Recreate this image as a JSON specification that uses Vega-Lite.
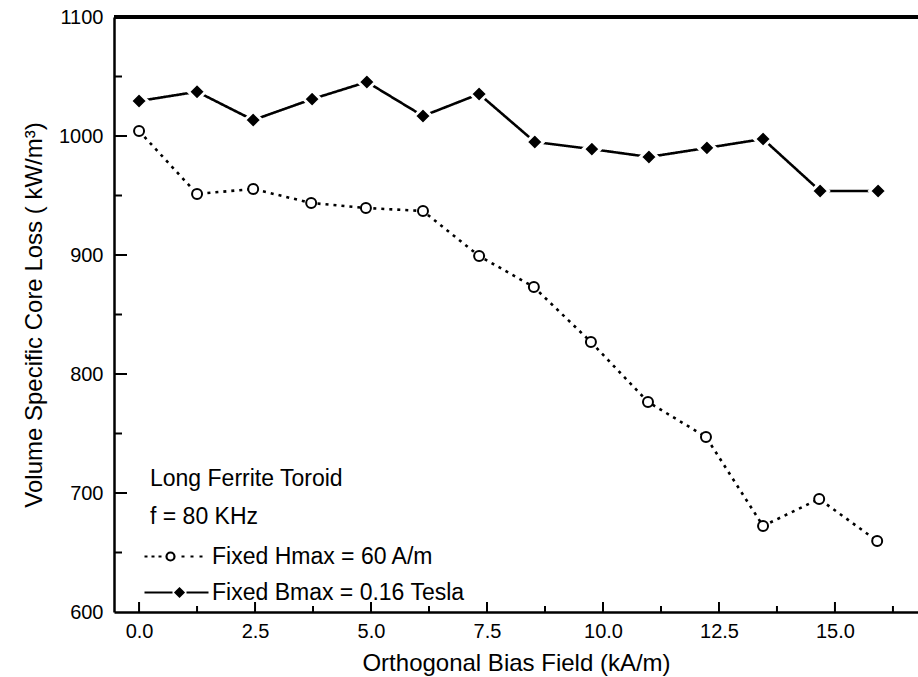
{
  "$schema": "https://vega.github.io/schema/vega-lite/v6.json",
  "autosize": {"type": "none"},
  "padding": {"left": 114, "top": 17, "right": 0, "bottom": 65},
  "width": 804,
  "height": 595,
  "background": "white",
  "config": {
    "font": "Liberation Sans",
    "view": {"stroke": null},
    "axis": {
      "grid": false,
      "domainColor": "black",
      "domainWidth": 2.5,
      "labelColor": "black",
      "titleColor": "black",
      "labelFont": "Liberation Sans",
      "titleFont": "Liberation Sans",
      "titleFontWeight": "normal"
    }
  },
  "datasets": {
    "loss": [
      {"field": 0.0, "loss": 1004.2, "series": "Fixed Hmax = 60 A/m"},
      {"field": 1.25, "loss": 951.3, "series": "Fixed Hmax = 60 A/m"},
      {"field": 2.46, "loss": 955.5, "series": "Fixed Hmax = 60 A/m"},
      {"field": 3.71, "loss": 943.7, "series": "Fixed Hmax = 60 A/m"},
      {"field": 4.89, "loss": 939.5, "series": "Fixed Hmax = 60 A/m"},
      {"field": 6.12, "loss": 937.0, "series": "Fixed Hmax = 60 A/m"},
      {"field": 7.33, "loss": 899.2, "series": "Fixed Hmax = 60 A/m"},
      {"field": 8.51, "loss": 873.1, "series": "Fixed Hmax = 60 A/m"},
      {"field": 9.74, "loss": 826.9, "series": "Fixed Hmax = 60 A/m"},
      {"field": 10.97, "loss": 776.5, "series": "Fixed Hmax = 60 A/m"},
      {"field": 12.22, "loss": 747.1, "series": "Fixed Hmax = 60 A/m"},
      {"field": 13.45, "loss": 672.3, "series": "Fixed Hmax = 60 A/m"},
      {"field": 14.66, "loss": 695.0, "series": "Fixed Hmax = 60 A/m"},
      {"field": 15.91, "loss": 659.7, "series": "Fixed Hmax = 60 A/m"},
      {"field": 0.0, "loss": 1029.4, "series": "Fixed Bmax = 0.16 Tesla"},
      {"field": 1.25, "loss": 1037.2, "series": "Fixed Bmax = 0.16 Tesla"},
      {"field": 2.46, "loss": 1013.4, "series": "Fixed Bmax = 0.16 Tesla"},
      {"field": 3.73, "loss": 1031.0, "series": "Fixed Bmax = 0.16 Tesla"},
      {"field": 4.91, "loss": 1045.4, "series": "Fixed Bmax = 0.16 Tesla"},
      {"field": 6.12, "loss": 1016.8, "series": "Fixed Bmax = 0.16 Tesla"},
      {"field": 7.33, "loss": 1035.3, "series": "Fixed Bmax = 0.16 Tesla"},
      {"field": 8.53, "loss": 995.0, "series": "Fixed Bmax = 0.16 Tesla"},
      {"field": 9.76, "loss": 989.0, "series": "Fixed Bmax = 0.16 Tesla"},
      {"field": 10.99, "loss": 982.4, "series": "Fixed Bmax = 0.16 Tesla"},
      {"field": 12.24, "loss": 990.0, "series": "Fixed Bmax = 0.16 Tesla"},
      {"field": 13.45, "loss": 997.5, "series": "Fixed Bmax = 0.16 Tesla"},
      {"field": 14.68, "loss": 953.8, "series": "Fixed Bmax = 0.16 Tesla"},
      {"field": 15.93, "loss": 953.8, "series": "Fixed Bmax = 0.16 Tesla"}
    ],
    "xMajor": [{"v": 0}, {"v": 2.5}, {"v": 5}, {"v": 7.5}, {"v": 10}, {"v": 12.5}, {"v": 15}],
    "xMinor": [{"v": 1.25}, {"v": 3.75}, {"v": 6.25}, {"v": 8.75}, {"v": 11.25}, {"v": 13.75}, {"v": 16.25}],
    "yMajor": [{"v": 700}, {"v": 800}, {"v": 900}, {"v": 1000}],
    "yMinor": [{"v": 650}, {"v": 750}, {"v": 850}, {"v": 950}, {"v": 1050}]
  },
  "layer": [
    {
      "data": {"name": "loss"},
      "mark": {"type": "line", "color": "black", "strokeWidth": 2.6},
      "encoding": {
        "x": {
          "field": "field", "type": "quantitative",
          "scale": {"domain": [-0.54, 16.79], "nice": false, "zero": false},
          "axis": {
            "title": "Orthogonal Bias Field (kA/m)",
            "titleFontSize": 24,
            "titlePadding": 10,
            "values": [0, 2.5, 5, 7.5, 10, 12.5, 15],
            "format": ".1f",
            "labelFontSize": 20,
            "ticks": false,
            "labelPadding": 9,
            "labelFlush": false
          }
        },
        "y": {
          "field": "loss", "type": "quantitative",
          "scale": {"domain": [600, 1100], "nice": false, "zero": false},
          "axis": {
            "title": "Volume Specific Core Loss ( kW/m³)",
            "titleFontSize": 24,
            "titlePadding": 12,
            "values": [600, 700, 800, 900, 1000, 1100],
            "format": "d",
            "labelFontSize": 20,
            "ticks": false,
            "labelPadding": 11,
            "labelFlush": false
          }
        },
        "strokeDash": {
          "condition": {"test": "datum.series === 'Fixed Hmax = 60 A/m'", "value": [3, 5]},
          "value": [1, 0]
        },
        "detail": {"field": "series"}
      }
    },
    {
      "data": {"name": "loss"},
      "mark": {"type": "point", "filled": true, "opacity": 1},
      "encoding": {
        "x": {"field": "field", "type": "quantitative"},
        "y": {"field": "loss", "type": "quantitative"},
        "shape": {
          "condition": {"test": "datum.series === 'Fixed Hmax = 60 A/m'", "value": "circle"},
          "value": "diamond"
        },
        "fill": {
          "condition": {"test": "datum.series === 'Fixed Hmax = 60 A/m'", "value": "white"},
          "value": "black"
        },
        "stroke": {
          "condition": {"test": "datum.series === 'Fixed Hmax = 60 A/m'", "value": "black"},
          "value": "white"
        },
        "size": {
          "condition": {"test": "datum.series === 'Fixed Hmax = 60 A/m'", "value": 100},
          "value": 290
        },
        "strokeWidth": {
          "condition": {"test": "datum.series === 'Fixed Hmax = 60 A/m'", "value": 2},
          "value": 3
        }
      }
    },
    {
      "data": {"name": "loss"},
      "mark": {"type": "point", "opacity": 0, "filled": false, "stroke": "black"},
      "encoding": {
        "x": {"field": "field", "type": "quantitative"},
        "y": {"field": "loss", "type": "quantitative"},
        "size": {"value": 4},
        "shape": {
          "field": "series", "type": "nominal",
          "scale": {
            "domain": ["Fixed Hmax = 60 A/m", "Fixed Bmax = 0.16 Tesla"],
            "range": [
              "M-32,0L-29,0M-25,0L-22,0M-18,0L-15,0M-10,0A4,4 0 1,1 -2,0A4,4 0 1,1 -10,0ZM5,0L8,0M14,0L17,0M23,0L26,0",
              "M-32,0L-4,0M10,0L32,0M3,-4L7,0L3,4L-1,0ZM3,-2L5,0L3,2L1,0ZM3,-0.5L3.5,0L3,0.5L2.5,0Z"
            ]
          },
          "legend": {
            "orient": "none",
            "legendX": 36,
            "legendY": 451,
            "padding": 0,
            "title": ["Long Ferrite Toroid", "f = 80 KHz"],
            "titleFont": "Liberation Sans",
            "titleFontSize": 23,
            "titleFontWeight": "normal",
            "titleColor": "black",
            "titleLineHeight": 38,
            "titleLimit": 500,
            "titlePadding": 16,
            "labelFont": "Liberation Sans",
            "labelFontSize": 23,
            "labelColor": "black",
            "labelLimit": 400,
            "labelOffset": 24,
            "symbolOffset": 15,
            "symbolSize": 4,
            "symbolFillColor": "white",
            "symbolStrokeColor": "black",
            "symbolStrokeWidth": 2.2,
            "symbolOpacity": 1,
            "rowPadding": 12
          }
        }
      }
    },
    {
      "data": {"name": "loss"},
      "mark": {"type": "rule", "color": "black", "strokeWidth": 2.5},
      "encoding": {
        "y": {"datum": 1100, "type": "quantitative"}
      }
    },
    {
      "data": {"name": "xMajor"},
      "mark": {"type": "rule", "color": "black", "strokeWidth": 2, "y2Offset": -10},
      "encoding": {
        "x": {"field": "v", "type": "quantitative"},
        "y": {"datum": 600, "type": "quantitative"},
        "y2": {"datum": 600}
      }
    },
    {
      "data": {"name": "xMinor"},
      "mark": {"type": "rule", "color": "black", "strokeWidth": 2, "y2Offset": -6},
      "encoding": {
        "x": {"field": "v", "type": "quantitative"},
        "y": {"datum": 600, "type": "quantitative"},
        "y2": {"datum": 600}
      }
    },
    {
      "data": {"name": "yMajor"},
      "mark": {"type": "rule", "color": "black", "strokeWidth": 2, "x2Offset": 13},
      "encoding": {
        "y": {"field": "v", "type": "quantitative"},
        "x": {"datum": -0.54, "type": "quantitative"},
        "x2": {"datum": -0.54}
      }
    },
    {
      "data": {"name": "yMinor"},
      "mark": {"type": "rule", "color": "black", "strokeWidth": 2, "x2Offset": 8},
      "encoding": {
        "y": {"field": "v", "type": "quantitative"},
        "x": {"datum": -0.54, "type": "quantitative"},
        "x2": {"datum": -0.54}
      }
    }
  ]
}
